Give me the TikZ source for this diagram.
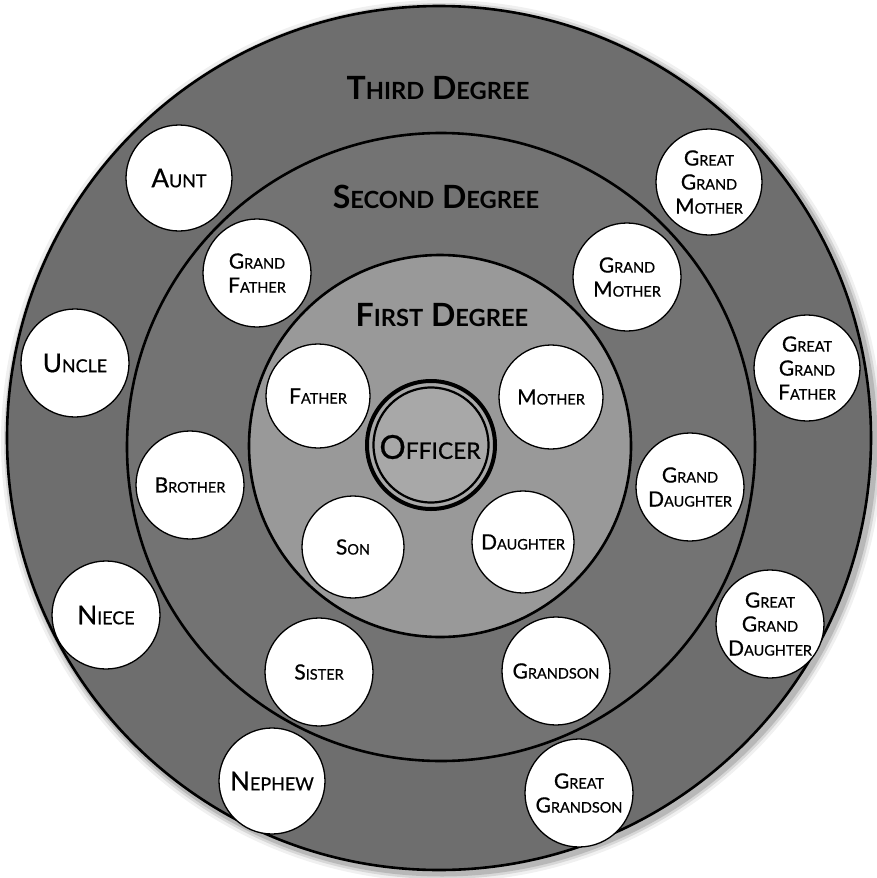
\documentclass[tikz,border=0pt]{standalone}
\usepackage{fontspec}
\setmainfont{Lato}
\newfontfamily\circfont{Lato}[FakeBold=0.6]
\makeatletter
\newcommand\scratio{0.69}
\newcommand\SC[2]{#1{\edef\sc@sz{\strip@pt\dimexpr\scratio\dimexpr\f@size pt\relax\relax}\fontsize{\sc@sz}{\sc@sz}\selectfont#2}}
\makeatother
\definecolor{ringthird}{gray}{0.43}
\definecolor{ringsecond}{gray}{0.45}
\definecolor{ringfirst}{gray}{0.60}
\definecolor{corefill}{gray}{0.66}
\tikzset{
  ringline/.style={draw=black, line width=2.6pt},
  person/.style={circle, draw=black, line width=1.3pt, fill=white, inner sep=0pt, align=center, text=black},
  small/.style={person, font=\circfont\fontsize{21}{24}\selectfont},
  big/.style={person, font=\circfont\fontsize{26}{28}\selectfont},
  heading/.style={font=\bfseries\fontsize{32}{34}\selectfont\def\scratio{0.74}, text=black, inner sep=0pt},
}
\begin{document}
\begin{tikzpicture}[x=1pt, y=-1pt]
\useasboundingbox (0,0) rectangle (876,878);
\fill[white] (0,0) rectangle (876,878);
% soft halo
\foreach \r/\o in {8/0.06, 5/0.10, 2.5/0.14}{
  \fill[black, opacity=\o] (442,441) circle[radius=433pt+\r pt];
}
% rings
\filldraw[ringline, fill=ringthird] (439,438) circle[radius=432pt];
\filldraw[ringline, fill=ringsecond] (441,447) circle[radius=314pt];
\filldraw[ringline, fill=ringfirst] (440,446) circle[radius=191pt];
% officer
\filldraw[draw=black, line width=4pt, fill=corefill] (431,445) circle[radius=64pt];
\draw[black, line width=2.2pt] (431,445) circle[radius=57.5pt];
\node[font=\circfont\fontsize{33}{35}\selectfont, inner sep=0pt] (officer) at (430,447) {\SC{O}{FFICER}};
% headings
\node[heading] (third) at (438,88) {\SC{T}{HIRD} \SC{D}{EGREE}};
\node[heading] (second) at (436,197) {\SC{S}{ECOND} \SC{D}{EGREE}};
\node[heading] (first) at (442,315) {\SC{F}{IRST} \SC{D}{EGREE}};
% people
\node[big, minimum size=106pt] (aunt) at (179,178) {\SC{A}{UNT}};
\node[small, minimum size=108pt] (gfather) at (257,273) {\SC{G}{RAND}\\\SC{F}{ATHER}};
\node[small, minimum size=106pt] (ggmother) at (709,182) {\SC{G}{REAT}\\\SC{G}{RAND}\\\SC{M}{OTHER}};
\node[small, minimum size=108pt] (gmother) at (627,277) {\SC{G}{RAND}\\\SC{M}{OTHER}};
\node[small, minimum size=106pt] (ggfather) at (807,368) {\SC{G}{REAT}\\\SC{G}{RAND}\\\SC{F}{ATHER}};
\node[big, minimum size=108pt] (uncle) at (75,363) {\SC{U}{NCLE}};
\node[small, minimum size=104pt] (father) at (318,396) {\SC{F}{ATHER}};
\node[small, minimum size=104pt] (mother) at (551,397) {\SC{M}{OTHER}};
\node[small, minimum size=108pt] (brother) at (190,485) {\SC{B}{ROTHER}};
\node[small, minimum size=108pt] (gdaughter) at (690,487) {\SC{G}{RAND}\\\SC{D}{AUGHTER}};
\node[small, minimum size=102pt] (son) at (353,547) {\SC{S}{ON}};
\node[small, minimum size=102pt] (daughter) at (523,542) {\SC{D}{AUGHTER}};
\node[big, minimum size=108pt] (niece) at (106,615) {\SC{N}{IECE}};
\node[small, minimum size=108pt] (ggdaughter) at (770,624) {\SC{G}{REAT}\\\SC{G}{RAND}\\\SC{D}{AUGHTER}};
\node[small, minimum size=108pt] (sister) at (319,672) {\SC{S}{ISTER}};
\node[small, minimum size=108pt] (grandson) at (556,671) {\SC{G}{RANDSON}};
\node[big, minimum size=106pt] (nephew) at (272,781) {\SC{N}{EPHEW}};
\node[small, minimum size=108pt] (ggrandson) at (579,793) {\SC{G}{REAT}\\\SC{G}{RANDSON}};
\end{tikzpicture}
\end{document}
